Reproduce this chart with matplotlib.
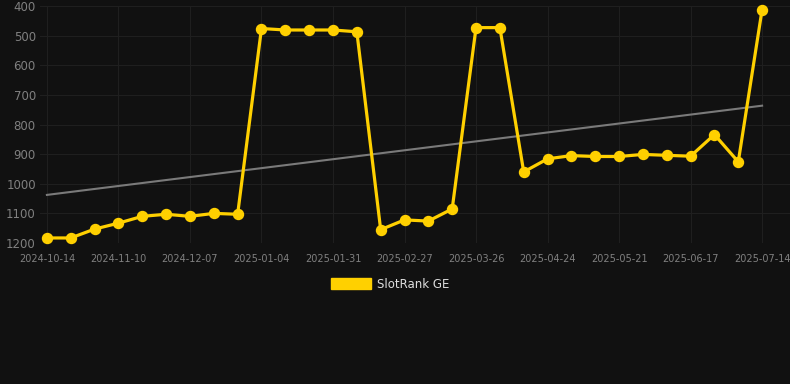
import numpy as np
import matplotlib
matplotlib.use("Agg")
import matplotlib.pyplot as plt
from matplotlib.patches import Patch

# rang за кожним заміром (менше = краще)
ranks = [1183, 1183, 1153, 1133, 1110, 1103, 1110, 1100, 1103,
         476, 481, 481, 481, 487,
         1155, 1122, 1126, 1085,
         473, 473,
         960, 916, 905, 908, 908, 901, 904, 907, 834, 926, 412]
tick_labels = ["2024-10-14", "2024-11-10", "2024-12-07", "2025-01-04", "2025-01-31",
               "2025-02-27", "2025-03-26", "2025-04-24", "2025-05-21", "2025-06-17",
               "2025-07-14"]
series_name = "SlotRank GE"

bg = "#111111"
gold = "#FFD000"

fig = plt.figure(figsize=(7.9, 3.84), dpi=100, facecolor=bg)
W, H = 790, 384
ax = fig.add_axes([40 / W, 1 - 243 / H, 750 / W, 237 / H], facecolor=bg)

x = np.arange(len(ranks))
y = np.array(ranks, dtype=float)

# лінія тренду
k, b = np.polyfit(x, y, 1)
ax.plot(x, k * x + b, color="#7a7a7a", lw=1.5, zorder=2)

ax.plot(x, y, color=gold, lw=2.3, marker="o", ms=7.2, zorder=3, clip_on=False)

ax.set_xlim(-0.29, 31.17)
ax.set_ylim(1200, 400)
ax.set_yticks([400, 500, 600, 700, 800, 900, 1000, 1100, 1200])
ax.set_xticks(np.arange(0, len(ranks), 3))
ax.set_xticklabels(tick_labels)

ax.grid(True, color="#1f1f1f", lw=0.8)
ax.set_axisbelow(True)
for s in ax.spines.values():
    s.set_visible(False)
ax.tick_params(axis="both", length=0, colors="#808080")
ax.tick_params(axis="y", labelsize=8.5, pad=3)
ax.tick_params(axis="x", labelsize=7, pad=8)

handle = Patch(facecolor=gold, edgecolor=gold)
fig.legend([handle], [series_name], loc="center", bbox_to_anchor=(390 / W, 1 - 284 / H),
           frameon=False, fontsize=8.5, labelcolor="#dddddd",
           handlelength=3.4, handleheight=1.0, handletextpad=0.5)

fig.savefig("out.png", dpi=100, facecolor=bg)
